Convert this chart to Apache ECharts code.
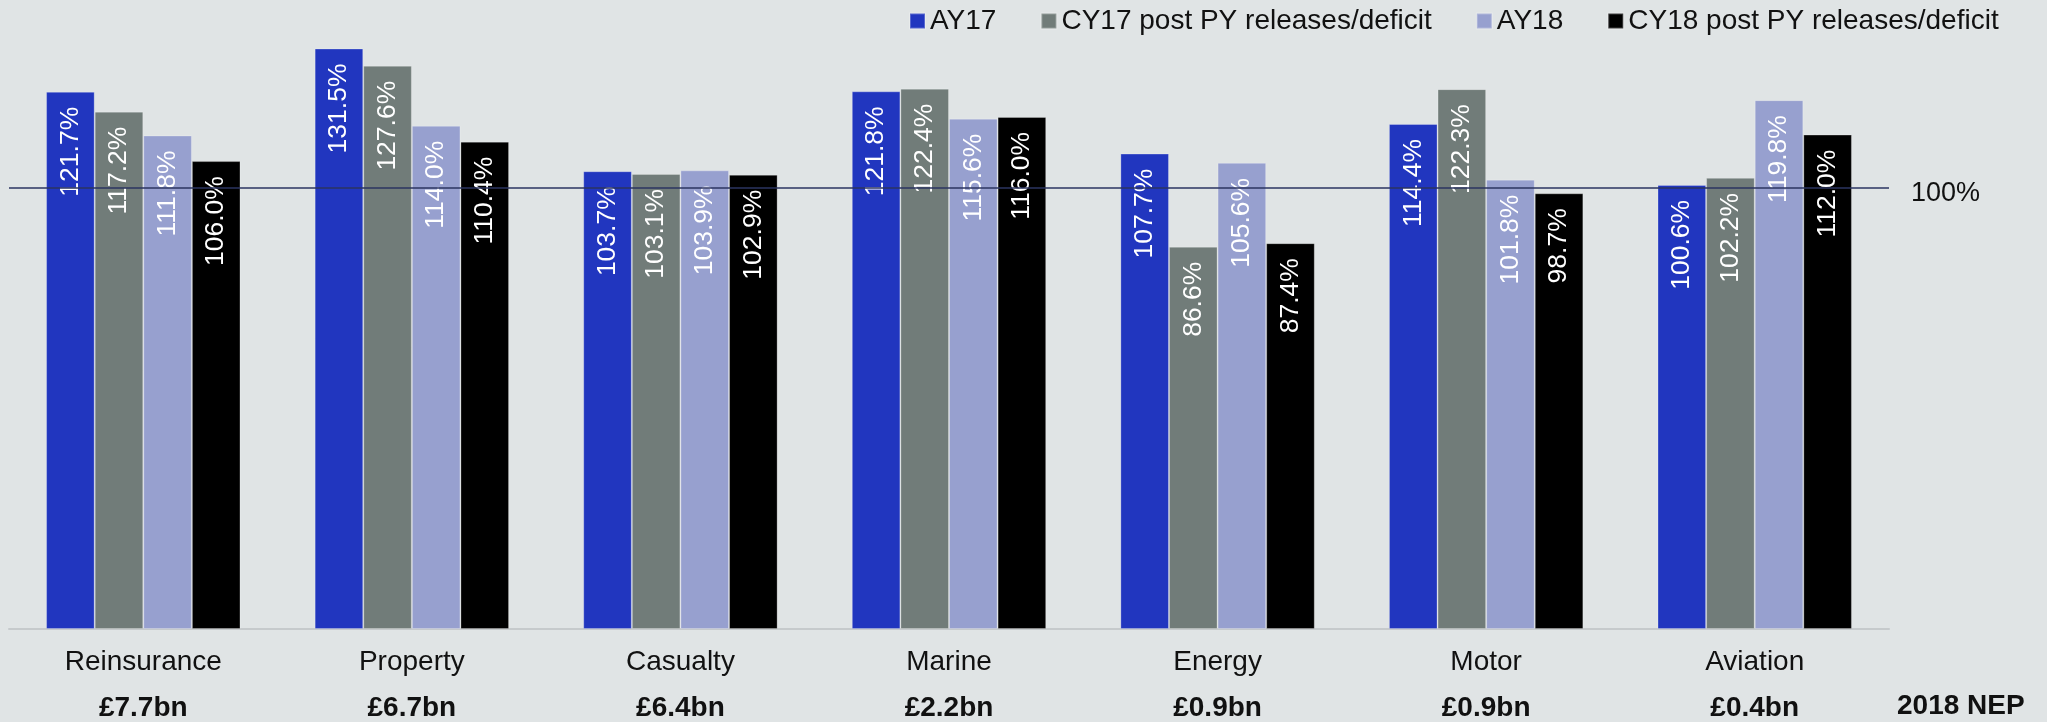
<!DOCTYPE html>
<html>
<head>
<meta charset="utf-8">
<script src="https://cdn.jsdelivr.net/npm/echarts@6/dist/echarts.min.js"></script>
<style>
html,body{margin:0;padding:0;background:#e0e4e5;}
#chart{width:2047px;height:722px;}
</style>
</head>
<body>
<div id="chart"></div>
<script>
const categories = ['Reinsurance','Property','Casualty','Marine','Energy','Motor','Aviation'];
const nep = ['£7.7bn','£6.7bn','£6.4bn','£2.2bn','£0.9bn','£0.9bn','£0.4bn'];
const seriesNames = ['AY17','CY17 post PY releases/deficit','AY18','CY18 post PY releases/deficit'];
const ay17 = [121.7,131.5,103.7,121.8,107.7,114.4,100.6];
const cy17 = [117.2,127.6,103.1,122.4,86.6,122.3,102.2];
const ay18 = [111.8,114.0,103.9,115.6,105.6,101.8,119.8];
const cy18 = [106.0,110.4,102.9,116.0,87.4,98.7,112.0];
const referenceLine = 100;
const nepTitle = '2018 NEP';

const colors = ['#2136bf','#717c79','#97a0cf','#000000'];
const FONT = "'Liberation Sans', Arial, sans-serif";
const values = [ay17, cy17, ay18, cy18];

const chart = echarts.init(document.getElementById('chart'));
const series = values.map((v, i) => {
  const s = {
    name: seriesNames[i],
    type: 'bar',
    data: v,
    barWidth: 48.6,
    barGap: '0%',
    itemStyle: {color: colors[i], borderColor: 'rgba(255,255,255,0.25)', borderWidth: 1},
    label: {
      show: true,
      position: 'insideTop',
      rotate: 90,
      align: 'right',
      verticalAlign: 'middle',
      distance: 15,
      color: '#ffffff',
      fontSize: 26.5,
      fontFamily: FONT,
      formatter: p => p.value.toFixed(1) + '%'
    },
    emphasis: {disabled: true}
  };
  if (i === 3) {
    s.markLine = {
      silent: true,
      symbol: 'none',
      z: 10,
      lineStyle: {color: '#2b3461', width: 1.5, type: 'solid'},
      label: {
        show: true,
        position: 'end',
        distance: 22,
        formatter: referenceLine + '%',
        color: '#111',
        fontSize: 27,
        fontFamily: FONT,
        offset: [0, 6]
      },
      data: [{yAxis: referenceLine}]
    };
  }
  return s;
});

chart.setOption({
  backgroundColor: '#e0e4e5',
  animation: false,
  color: colors,
  textStyle: {fontFamily: FONT},
  legend: {
    left: 904,
    top: 2,
    icon: 'rect',
    itemWidth: 15,
    itemHeight: 15,
    itemGap: 44,
    textStyle: {fontSize: 28, color: '#111', fontFamily: FONT},
    data: seriesNames
  },
  grid: {left: 9, right: 158, top: 11, bottom: 93, containLabel: false},
  xAxis: {
    type: 'category',
    data: categories,
    axisLine: {lineStyle: {color: '#c6cacc', width: 2}},
    axisTick: {show: false},
    axisLabel: {
      margin: 10,
      interval: 0,
      formatter: (val, idx) => '{a|' + val + '}\n{b|' + nep[idx] + '}',
      rich: {
        a: {fontSize: 28, color: '#111', lineHeight: 46, fontFamily: FONT},
        b: {fontSize: 28, color: '#111', fontWeight: 'bold', lineHeight: 46, fontFamily: FONT}
      }
    }
  },
  yAxis: {
    type: 'value',
    min: 0,
    max: 140,
    show: false,
    splitLine: {show: false}
  },
  graphic: [{
    type: 'text',
    left: 1897,
    top: 692,
    style: {text: nepTitle, fontSize: 28, fontWeight: 'bold', fill: '#111', fontFamily: FONT}
  }],
  series: series
});
</script>
</body>
</html>
